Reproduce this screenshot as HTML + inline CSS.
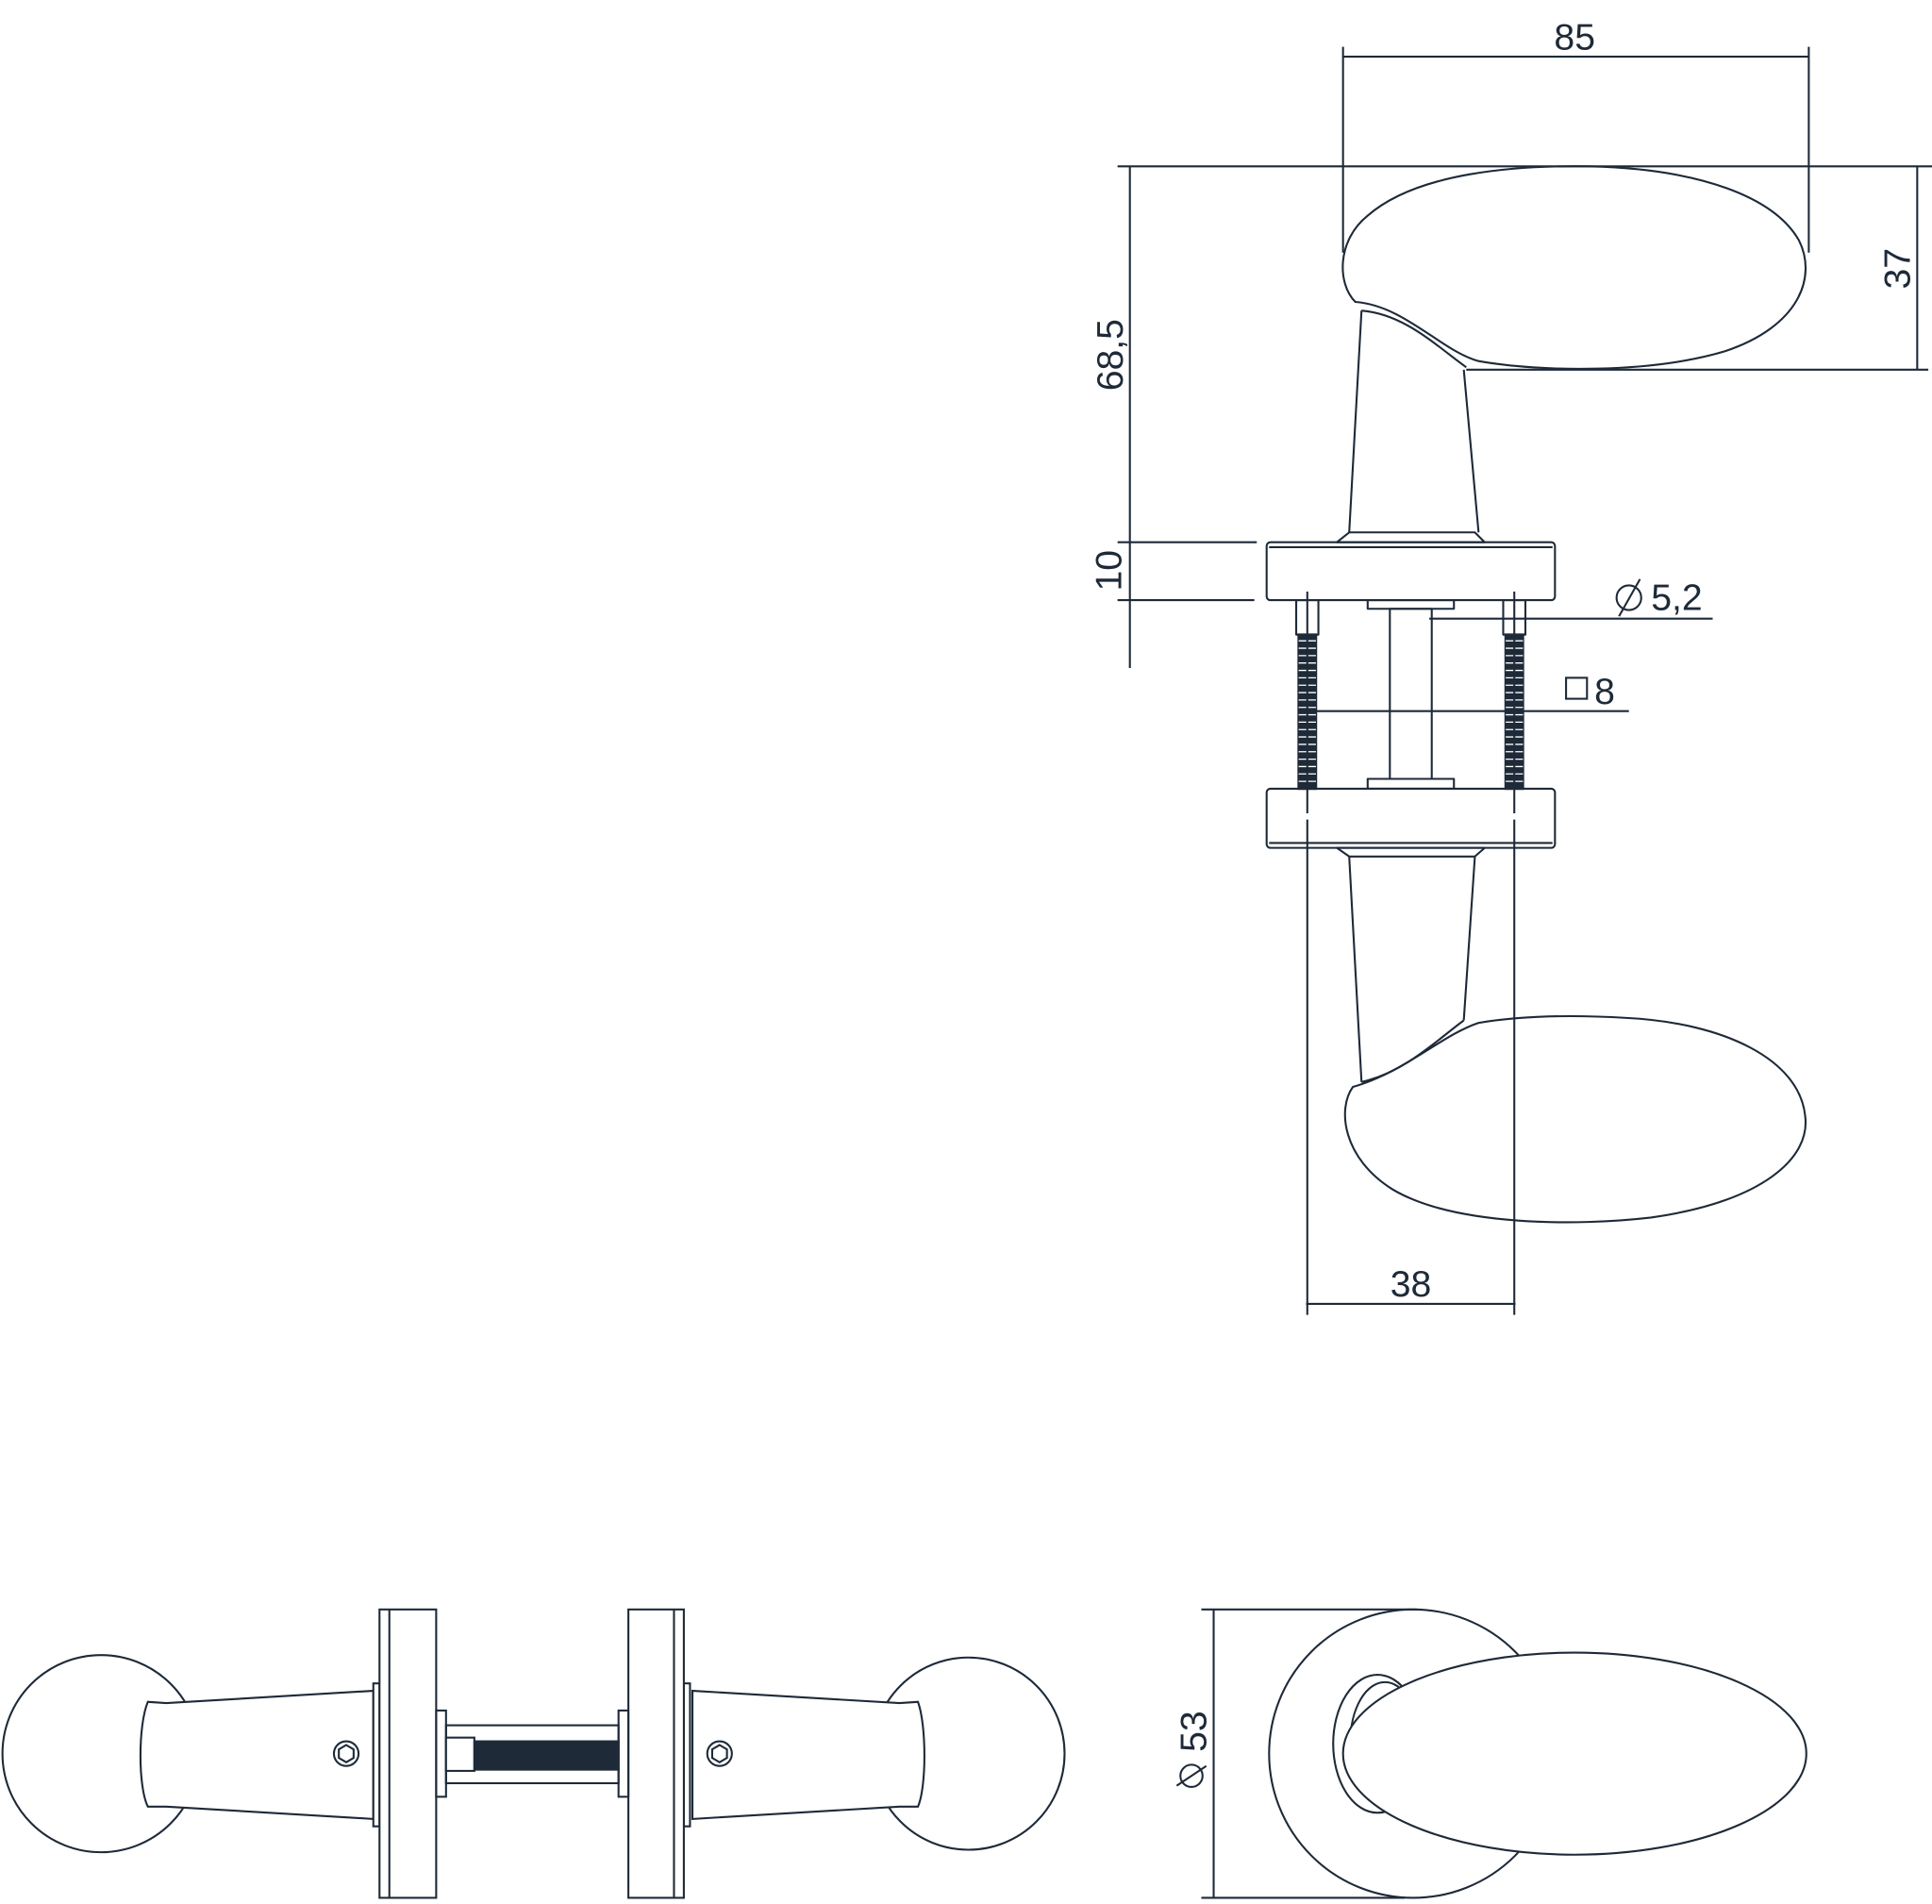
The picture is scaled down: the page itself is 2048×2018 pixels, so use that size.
<!DOCTYPE html>
<html><head><meta charset="utf-8"><style>html,body{margin:0;padding:0;background:#fff}svg{display:block}</style></head>
<body>
<svg width="2048" height="2018" viewBox="0 0 1568 1545" xmlns="http://www.w3.org/2000/svg">
<g fill="none" stroke="#1e2a38" stroke-width="1.6" stroke-linejoin="round">
<line x1="1090" y1="46" x2="1468" y2="46"/>
<line x1="1090" y1="38" x2="1090" y2="205"/>
<line x1="1468" y1="38" x2="1468" y2="205"/>
<line x1="907" y1="135" x2="1568" y2="135"/>
<line x1="917" y1="135" x2="917" y2="542"/>
<line x1="1556" y1="135" x2="1556" y2="300"/>
<line x1="1190" y1="300" x2="1565" y2="300"/>
<line x1="907" y1="440" x2="1020" y2="440"/>
<line x1="907" y1="487" x2="1018" y2="487"/>
<path d="M1100,245 C1085,230 1085,195 1110,175 C1150,140 1230,134 1290,135 C1380,137 1440,160 1460,195 C1475,225 1460,265 1400,285 C1340,303 1250,302 1200,293 C1170,285 1140,248 1100,245 Z"/>
<path d="M1105,252 C1140,255 1165,280 1190,298"/>
<line x1="1105" y1="252" x2="1095" y2="432"/>
<line x1="1188" y1="300" x2="1200" y2="432"/>
<path d="M1095,432 L1085,440 L1205,440 L1197,432 Z"/>
<rect x="1028" y="440" width="234" height="47" rx="3"/>
<line x1="1030" y1="444" x2="1260" y2="444"/>
<rect x="1052" y="487" width="18" height="28"/>
<rect x="1220" y="487" width="18" height="28"/>
<rect x="1110" y="487" width="70" height="7"/>
<rect x="1128" y="494" width="34" height="138"/>
<rect x="1110" y="632" width="70" height="8"/>
<rect x="1028" y="640" width="234" height="48" rx="3"/>
<line x1="1030" y1="684" x2="1260" y2="684"/>
<path d="M1085,688 L1095,695 L1197,695 L1205,688 Z"/>
</g>
<g stroke="#1e2a38" stroke-width="2">
<rect x="1054" y="515" width="14" height="125" fill="#1e2a38"/>
<rect x="1222" y="515" width="14" height="125" fill="#1e2a38"/>
</g>
<g stroke="#fff" stroke-width="1">
<path d="M1054,520 h14 M1054,526 h14 M1054,532 h14 M1054,538 h14 M1054,544 h14 M1054,550 h14 M1054,556 h14 M1054,562 h14 M1054,568 h14 M1054,574 h14 M1054,580 h14 M1054,586 h14 M1054,592 h14 M1054,598 h14 M1054,604 h14 M1054,610 h14 M1054,616 h14 M1054,622 h14 M1054,628 h14 M1054,634 h14"/>
<path d="M1222,520 h14 M1222,526 h14 M1222,532 h14 M1222,538 h14 M1222,544 h14 M1222,550 h14 M1222,556 h14 M1222,562 h14 M1222,568 h14 M1222,574 h14 M1222,580 h14 M1222,586 h14 M1222,592 h14 M1222,598 h14 M1222,604 h14 M1222,610 h14 M1222,616 h14 M1222,622 h14 M1222,628 h14 M1222,634 h14"/>
</g>
<g fill="none" stroke="#1e2a38" stroke-width="1.6">
<line x1="1061" y1="480" x2="1061" y2="660"/>
<line x1="1229" y1="480" x2="1229" y2="660"/>
<line x1="1061" y1="665" x2="1061" y2="1067"/>
<line x1="1229" y1="665" x2="1229" y2="1067"/>
<line x1="1060" y1="1058" x2="1230" y2="1058"/>
<line x1="1160" y1="502" x2="1390" y2="502"/>
<line x1="1068" y1="577" x2="1322" y2="577"/>
<line x1="1095" y1="695" x2="1105" y2="878"/>
<line x1="1197" y1="695" x2="1188" y2="828"/>
<path d="M1105,878 C1140,870 1165,845 1188,828"/>
<path d="M1098,882 C1085,900 1090,940 1130,965 C1180,995 1280,995 1340,988 C1430,975 1470,940 1465,905 C1460,860 1400,830 1320,826 C1270,823 1230,825 1200,830 C1170,840 1140,870 1098,882 Z"/>
<circle cx="82" cy="1423" r="80"/>
<circle cx="786" cy="1423" r="78"/>
<path d="M120,1381 C112,1400 112,1450 120,1466 L135,1466 L303,1476 L303,1372 L135,1382 Z" fill="#fff"/>
<path d="M745,1381 C752,1400 752,1450 745,1466 L730,1466 L562,1476 L562,1372 L730,1382 Z" fill="#fff"/>
<rect x="303" y="1366" width="5" height="116" fill="#fff"/>
<rect x="555" y="1366" width="5" height="116" fill="#fff"/>
<rect x="308" y="1306" width="46" height="234" fill="#fff"/>
<line x1="316" y1="1306" x2="316" y2="1540"/>
<rect x="510" y="1306" width="45" height="234" fill="#fff"/>
<line x1="547" y1="1306" x2="547" y2="1540"/>
<circle cx="281" cy="1423" r="10"/>
<path d="M281,1416 l6,3.5 v7 l-6,3.5 l-6,-3.5 v-7 Z"/>
<circle cx="584" cy="1423" r="10"/>
<path d="M584,1416 l6,3.5 v7 l-6,3.5 l-6,-3.5 v-7 Z"/>
<rect x="354" y="1388" width="8" height="70"/>
<rect x="502" y="1388" width="8" height="70"/>
<rect x="362" y="1400" width="140" height="47"/>
<rect x="362" y="1410" width="23" height="27" fill="#fff"/>
<rect x="385" y="1413" width="117" height="23" fill="#1e2a38"/>
<line x1="985" y1="1306" x2="985" y2="1540"/>
<line x1="975" y1="1306" x2="1150" y2="1306"/>
<line x1="975" y1="1540" x2="1140" y2="1540"/>
<circle cx="1147" cy="1423" r="117"/>
<ellipse cx="1118" cy="1415" rx="36" ry="56"/>
<ellipse cx="1124" cy="1413" rx="28" ry="48"/>
<ellipse cx="1278" cy="1423" rx="188" ry="82" fill="#fff"/>
</g>
<g font-family="Liberation Sans, sans-serif" font-size="30" fill="#1e2a38">
<text x="1278" y="40" text-anchor="middle">85</text>
<text x="1145" y="1052" text-anchor="middle">38</text>
<text transform="translate(911,288) rotate(-90)" text-anchor="middle">68,5</text>
<text transform="translate(910,463) rotate(-90)" text-anchor="middle">10</text>
<text transform="translate(1550,218) rotate(-90)" text-anchor="middle">37</text>
<text x="1340" y="495">5,2</text>
<text x="1294" y="571">8</text>
<text transform="translate(979,1405) rotate(-90)" text-anchor="middle">53</text>
</g>
<g fill="none" stroke="#1e2a38" stroke-width="1.6">
<circle cx="1322" cy="485" r="10"/><line x1="1314" y1="500" x2="1331" y2="470"/>
<rect x="1271" y="550" width="17" height="17"/>
<circle cx="967" cy="1441" r="9"/><line x1="955" y1="1449" x2="979" y2="1433"/>
</g>
</svg>
</body></html>
